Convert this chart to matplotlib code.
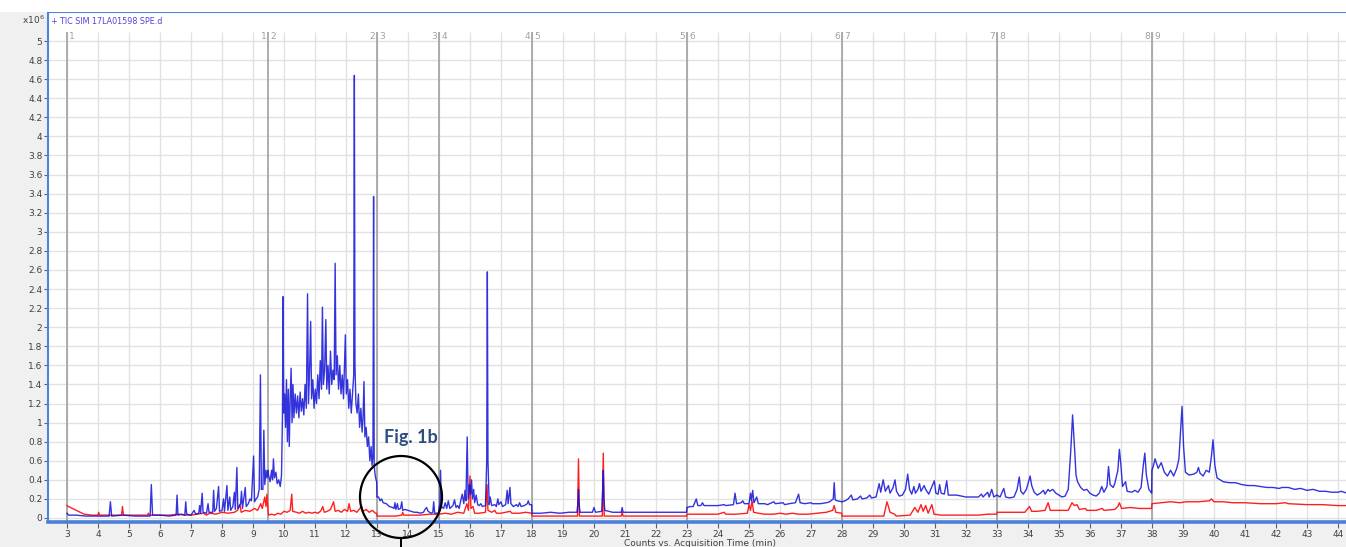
import matplotlib
matplotlib.use("Agg")
import matplotlib.pyplot as plt
from matplotlib.patches import Ellipse, Rectangle
from matplotlib.lines import Line2D

# ---------------- data (x10^6 counts vs minutes) ----------------
title_text = "+ TIC SIM 17LA01598 SPE.d"
x_label = "Counts vs. Acquisition Time (min)"
x_ticks = list(range(3, 45))
y_ticks = [0, 0.2, 0.4, 0.6, 0.8, 1, 1.2, 1.4, 1.6, 1.8, 2, 2.2, 2.4, 2.6, 2.8,
           3, 3.2, 3.4, 3.6, 3.8, 4, 4.2, 4.4, 4.6, 4.8, 5]
segment_times = [3.0, 9.5, 13.0, 15.0, 18.0, 23.0, 28.0, 33.0, 38.0]
segment_ids = [1, 2, 3, 4, 5, 6, 7, 8, 9]

blue_early = [
    (3.00, 0.05), (3.05, 0.03), (3.30, 0.03), (3.60, 0.02), (4.00, 0.02), (4.36, 0.02),
    (4.40, 0.17), (4.44, 0.02), (4.80, 0.03), (5.20, 0.02), (5.68, 0.02), (5.72, 0.35),
    (5.76, 0.03), (6.00, 0.03), (6.30, 0.02), (6.52, 0.03), (6.55, 0.24), (6.58, 0.03),
    (6.70, 0.04), (6.80, 0.03), (6.83, 0.17), (6.86, 0.04), (7.00, 0.03), (7.10, 0.08),
    (7.15, 0.04), (7.25, 0.05), (7.28, 0.13), (7.31, 0.05), (7.36, 0.26), (7.39, 0.06),
    (7.50, 0.05), (7.55, 0.15), (7.58, 0.06), (7.70, 0.06), (7.73, 0.29), (7.76, 0.07),
    (7.82, 0.10), (7.89, 0.33), (7.92, 0.07), (8.00, 0.08), (8.05, 0.20), (8.08, 0.07),
    (8.16, 0.34), (8.19, 0.08), (8.25, 0.22), (8.28, 0.08), (8.35, 0.12), (8.40, 0.27),
    (8.43, 0.09), (8.48, 0.53), (8.51, 0.10), (8.60, 0.15), (8.63, 0.28), (8.66, 0.10),
    (8.75, 0.32), (8.78, 0.12), (8.85, 0.15), (8.90, 0.20), (8.95, 0.18), (9.02, 0.65),
    (9.05, 0.17), (9.10, 0.20), (9.15, 0.22), (9.20, 0.30), (9.24, 1.50), (9.27, 0.30),
    (9.32, 0.30), (9.35, 0.92), (9.38, 0.35), (9.42, 0.50), (9.45, 0.42), (9.49, 0.50),
]

blue_hump = [
    (9.50, 0.45), (9.55, 0.38), (9.60, 0.50), (9.63, 0.40), (9.66, 0.62), (9.69, 0.42),
    (9.74, 0.48), (9.78, 0.36), (9.83, 0.40), (9.88, 0.33), (9.92, 0.45), (9.95, 1.05),
    (9.97, 2.32), (9.99, 1.10), (10.02, 1.30), (10.05, 0.95), (10.08, 1.45), (10.11, 0.80),
    (10.14, 1.35), (10.17, 0.75), (10.20, 1.25), (10.23, 1.57), (10.26, 1.00), (10.29, 1.40),
    (10.32, 1.05), (10.36, 1.30), (10.40, 1.10), (10.44, 1.28), (10.48, 1.05), (10.52, 1.32),
    (10.56, 1.12), (10.60, 1.25), (10.64, 1.08), (10.68, 1.40), (10.72, 1.15), (10.76, 2.35),
    (10.79, 1.20), (10.83, 1.60), (10.86, 2.06), (10.89, 1.25), (10.93, 1.45), (10.97, 1.15),
    (11.01, 1.35), (11.05, 1.20), (11.09, 1.50), (11.13, 1.25), (11.17, 1.65), (11.21, 1.35),
    (11.24, 2.21), (11.27, 1.40), (11.31, 1.55), (11.35, 2.08), (11.38, 1.35), (11.42, 1.60),
    (11.46, 1.30), (11.50, 1.75), (11.54, 1.40), (11.58, 1.55), (11.62, 1.45), (11.65, 2.67),
    (11.68, 1.50), (11.72, 1.70), (11.76, 1.35), (11.80, 1.60), (11.84, 1.30), (11.88, 1.50),
    (11.92, 1.25), (11.95, 1.60), (11.98, 1.92), (12.01, 1.30), (12.05, 1.45), (12.09, 1.15),
    (12.13, 1.35), (12.17, 1.10), (12.21, 1.30), (12.25, 1.50), (12.27, 4.64), (12.29, 1.60),
    (12.32, 1.20), (12.36, 1.10), (12.40, 1.30), (12.44, 0.95), (12.48, 1.15), (12.52, 0.90),
    (12.55, 1.05), (12.58, 1.43), (12.61, 0.85), (12.65, 0.95), (12.69, 0.75), (12.73, 0.85),
    (12.77, 0.60), (12.81, 0.75), (12.84, 0.55), (12.87, 0.65), (12.89, 3.37), (12.91, 0.55),
    (12.94, 0.45), (12.97, 0.40), (12.99, 0.38),
]

blue_mid = [
    (13.00, 0.22), (13.05, 0.22), (13.10, 0.18), (13.15, 0.20), (13.20, 0.16), (13.30, 0.15),
    (13.40, 0.12), (13.50, 0.11), (13.55, 0.10), (13.58, 0.16), (13.61, 0.09), (13.66, 0.15),
    (13.69, 0.09), (13.76, 0.10), (13.80, 0.17), (13.83, 0.08), (13.90, 0.09), (14.00, 0.08),
    (14.10, 0.07), (14.20, 0.06), (14.30, 0.06), (14.40, 0.05), (14.50, 0.06), (14.55, 0.09),
    (14.60, 0.11), (14.65, 0.07), (14.75, 0.05), (14.80, 0.06), (14.83, 0.17), (14.86, 0.05),
    (14.95, 0.05), (14.99, 0.05),
    (15.00, 0.10), (15.03, 0.15), (15.05, 0.50), (15.08, 0.12), (15.15, 0.10), (15.20, 0.16),
    (15.25, 0.10), (15.30, 0.18), (15.35, 0.10), (15.45, 0.13), (15.50, 0.19), (15.55, 0.11),
    (15.60, 0.13), (15.65, 0.10), (15.70, 0.18), (15.75, 0.25), (15.80, 0.15), (15.84, 0.29),
    (15.87, 0.18), (15.91, 0.85), (15.94, 0.20), (15.98, 0.35), (16.02, 0.25), (16.05, 0.40),
    (16.08, 0.20), (16.12, 0.30), (16.15, 0.16), (16.20, 0.24), (16.25, 0.14), (16.30, 0.13),
    (16.35, 0.15), (16.40, 0.12), (16.50, 0.13), (16.54, 0.60), (16.56, 2.58), (16.58, 0.60),
    (16.62, 0.14), (16.65, 0.22), (16.70, 0.13), (16.80, 0.14), (16.85, 0.12), (16.90, 0.20),
    (16.93, 0.14), (17.00, 0.17), (17.05, 0.12), (17.15, 0.14), (17.20, 0.29), (17.23, 0.15),
    (17.29, 0.32), (17.32, 0.15), (17.40, 0.12), (17.50, 0.14), (17.55, 0.12), (17.60, 0.16),
    (17.65, 0.12), (17.75, 0.13), (17.85, 0.15), (17.88, 0.18), (17.92, 0.14), (17.99, 0.14),
    (18.00, 0.05), (18.30, 0.05), (18.60, 0.06), (18.90, 0.05), (19.20, 0.06), (19.45, 0.06),
    (19.48, 0.15), (19.50, 0.30), (19.52, 0.15), (19.55, 0.06), (19.80, 0.06), (19.95, 0.06),
    (20.00, 0.11), (20.05, 0.06), (20.25, 0.07), (20.28, 0.30), (20.30, 0.50), (20.32, 0.20),
    (20.35, 0.08), (20.60, 0.06), (20.88, 0.06), (20.91, 0.11), (20.94, 0.06), (21.30, 0.06),
    (21.70, 0.06), (22.00, 0.06), (22.40, 0.06), (22.70, 0.06), (22.99, 0.06),
]

blue_late = [
    (23.00, 0.11), (23.10, 0.12), (23.20, 0.12), (23.30, 0.20), (23.35, 0.13), (23.45, 0.13),
    (23.50, 0.16), (23.55, 0.13), (23.80, 0.13), (24.00, 0.13), (24.20, 0.14), (24.25, 0.13),
    (24.50, 0.14), (24.55, 0.26), (24.60, 0.15), (24.75, 0.16), (24.80, 0.18), (24.85, 0.15),
    (25.00, 0.15), (25.05, 0.26), (25.08, 0.18), (25.12, 0.29), (25.16, 0.16), (25.25, 0.22),
    (25.30, 0.15), (25.50, 0.15), (25.60, 0.14), (25.80, 0.17), (25.85, 0.15), (26.10, 0.16),
    (26.15, 0.14), (26.30, 0.15), (26.50, 0.16), (26.60, 0.25), (26.65, 0.16), (26.80, 0.15),
    (27.00, 0.16), (27.05, 0.15), (27.30, 0.15), (27.50, 0.16), (27.60, 0.17), (27.72, 0.20),
    (27.75, 0.37), (27.78, 0.19), (27.85, 0.18), (27.99, 0.17),
    (28.00, 0.17), (28.10, 0.18), (28.20, 0.20), (28.30, 0.24), (28.35, 0.19), (28.50, 0.20),
    (28.60, 0.23), (28.65, 0.20), (28.80, 0.21), (28.90, 0.24), (28.95, 0.21), (29.10, 0.22),
    (29.20, 0.36), (29.25, 0.27), (29.33, 0.40), (29.40, 0.28), (29.50, 0.34), (29.55, 0.26),
    (29.65, 0.32), (29.71, 0.40), (29.76, 0.28), (29.85, 0.23), (29.95, 0.24), (30.05, 0.30),
    (30.12, 0.46), (30.18, 0.30), (30.25, 0.25), (30.32, 0.33), (30.37, 0.26), (30.45, 0.30),
    (30.50, 0.36), (30.55, 0.28), (30.65, 0.34), (30.70, 0.30), (30.80, 0.25), (30.98, 0.39),
    (31.03, 0.26), (31.10, 0.25), (31.15, 0.35), (31.20, 0.26), (31.30, 0.25), (31.38, 0.39),
    (31.43, 0.24), (31.55, 0.24), (31.70, 0.24), (31.85, 0.23), (32.00, 0.22), (32.20, 0.22),
    (32.40, 0.22), (32.50, 0.25), (32.55, 0.22), (32.70, 0.27), (32.75, 0.22), (32.83, 0.30),
    (32.90, 0.22), (32.99, 0.24),
    (33.00, 0.24), (33.10, 0.22), (33.22, 0.31), (33.28, 0.22), (33.40, 0.21), (33.55, 0.22),
    (33.65, 0.30), (33.72, 0.43), (33.77, 0.28), (33.85, 0.25), (33.95, 0.30), (34.07, 0.44),
    (34.12, 0.34), (34.20, 0.27), (34.30, 0.24), (34.40, 0.26), (34.50, 0.29), (34.55, 0.25),
    (34.65, 0.30), (34.70, 0.28), (34.80, 0.30), (34.90, 0.26), (35.00, 0.24), (35.10, 0.22),
    (35.20, 0.23), (35.30, 0.30), (35.38, 0.70), (35.44, 1.08), (35.50, 0.75), (35.55, 0.45),
    (35.60, 0.38), (35.70, 0.32), (35.80, 0.29), (35.90, 0.30), (36.00, 0.26), (36.10, 0.24),
    (36.20, 0.23), (36.30, 0.26), (36.38, 0.33), (36.45, 0.27), (36.55, 0.33), (36.60, 0.54),
    (36.65, 0.35), (36.75, 0.32), (36.80, 0.36), (36.90, 0.50), (36.95, 0.72), (37.00, 0.55),
    (37.05, 0.33), (37.15, 0.38), (37.20, 0.28), (37.35, 0.27), (37.45, 0.29), (37.55, 0.27),
    (37.65, 0.32), (37.72, 0.55), (37.77, 0.68), (37.82, 0.45), (37.90, 0.30), (37.99, 0.26),
    (38.00, 0.50), (38.05, 0.55), (38.10, 0.62), (38.20, 0.52), (38.30, 0.58), (38.40, 0.48),
    (38.50, 0.44), (38.60, 0.50), (38.70, 0.44), (38.80, 0.52), (38.87, 0.62), (38.92, 0.90),
    (38.97, 1.17), (39.02, 0.75), (39.08, 0.48), (39.20, 0.45), (39.35, 0.46), (39.45, 0.48),
    (39.50, 0.53), (39.55, 0.47), (39.65, 0.44), (39.75, 0.50), (39.85, 0.48), (39.92, 0.65),
    (39.97, 0.82), (40.03, 0.55), (40.10, 0.42), (40.30, 0.38), (40.50, 0.37), (40.70, 0.37),
    (40.90, 0.35), (41.10, 0.34), (41.30, 0.34), (41.50, 0.33), (41.70, 0.32), (41.90, 0.32),
    (42.10, 0.31), (42.20, 0.32), (42.40, 0.32), (42.60, 0.30), (42.80, 0.31), (43.00, 0.29),
    (43.20, 0.30), (43.40, 0.28), (43.60, 0.28), (43.80, 0.27), (44.00, 0.27), (44.10, 0.28),
    (44.30, 0.26),
]

red_early = [
    (3.00, 0.13), (3.05, 0.12), (3.30, 0.08), (3.55, 0.04), (3.80, 0.03), (4.00, 0.03),
    (4.02, 0.06), (4.05, 0.03), (4.40, 0.03), (4.76, 0.03), (4.79, 0.12), (4.82, 0.03),
    (5.20, 0.03), (5.60, 0.03), (5.62, 0.05), (5.65, 0.03), (6.00, 0.03), (6.30, 0.03),
    (6.60, 0.04), (6.80, 0.03), (7.00, 0.03), (7.20, 0.04), (7.40, 0.05), (7.50, 0.03),
    (7.60, 0.05), (7.80, 0.04), (8.00, 0.06), (8.20, 0.05), (8.40, 0.06), (8.50, 0.08),
    (8.58, 0.14), (8.62, 0.06), (8.75, 0.08), (8.90, 0.07), (9.05, 0.10), (9.15, 0.08),
    (9.25, 0.15), (9.30, 0.10), (9.38, 0.22), (9.42, 0.12), (9.45, 0.25), (9.48, 0.10),
    (9.50, 0.03), (9.60, 0.04), (9.70, 0.03), (9.80, 0.05), (9.90, 0.04), (10.00, 0.07),
    (10.10, 0.06), (10.20, 0.08), (10.25, 0.25), (10.28, 0.07), (10.40, 0.06), (10.50, 0.05),
    (10.60, 0.07), (10.70, 0.05), (10.80, 0.06), (10.90, 0.05), (11.00, 0.06), (11.10, 0.05),
    (11.20, 0.08), (11.25, 0.12), (11.30, 0.06), (11.40, 0.07), (11.50, 0.09), (11.60, 0.17),
    (11.65, 0.07), (11.75, 0.08), (11.85, 0.06), (11.95, 0.09), (12.05, 0.07), (12.10, 0.15),
    (12.15, 0.07), (12.25, 0.08), (12.35, 0.06), (12.45, 0.10), (12.50, 0.13), (12.55, 0.07),
    (12.65, 0.09), (12.75, 0.06), (12.85, 0.08), (12.95, 0.05), (12.99, 0.05),
]

red_mid = [
    (13.00, 0.02), (13.30, 0.02), (13.60, 0.02), (13.80, 0.03), (13.83, 0.06), (13.86, 0.03),
    (14.10, 0.03), (14.40, 0.03), (14.70, 0.04), (14.99, 0.04),
    (15.00, 0.04), (15.20, 0.05), (15.40, 0.04), (15.60, 0.06), (15.80, 0.05), (15.90, 0.15),
    (15.95, 0.08), (16.00, 0.44), (16.03, 0.10), (16.10, 0.12), (16.15, 0.05), (16.30, 0.05),
    (16.50, 0.06), (16.55, 0.35), (16.58, 0.08), (16.70, 0.06), (16.80, 0.08), (16.85, 0.05),
    (17.00, 0.05), (17.30, 0.07), (17.35, 0.05), (17.60, 0.05), (17.80, 0.06), (17.99, 0.05),
    (18.00, 0.02), (18.50, 0.02), (19.00, 0.02), (19.47, 0.02), (19.50, 0.62), (19.53, 0.02),
    (20.00, 0.02), (20.27, 0.02), (20.30, 0.68), (20.33, 0.02), (20.88, 0.02), (20.91, 0.06),
    (20.94, 0.02), (21.50, 0.02), (22.00, 0.02), (22.50, 0.02), (22.99, 0.02),
]

red_late = [
    (23.00, 0.04), (23.30, 0.04), (23.60, 0.04), (24.00, 0.04), (24.20, 0.06), (24.25, 0.04),
    (24.60, 0.04), (24.95, 0.05), (25.00, 0.14), (25.05, 0.08), (25.10, 0.18), (25.15, 0.06),
    (25.30, 0.05), (25.50, 0.04), (25.80, 0.04), (26.00, 0.05), (26.20, 0.04), (26.40, 0.05),
    (26.60, 0.04), (26.90, 0.04), (27.20, 0.05), (27.50, 0.06), (27.70, 0.08), (27.75, 0.13),
    (27.80, 0.06), (27.99, 0.05),
    (28.00, 0.02), (28.50, 0.02), (29.00, 0.02), (29.35, 0.02), (29.45, 0.17), (29.50, 0.12),
    (29.55, 0.06), (29.70, 0.04), (29.75, 0.02), (30.20, 0.03), (30.35, 0.11), (30.45, 0.06),
    (30.55, 0.14), (30.62, 0.07), (30.70, 0.13), (30.78, 0.05), (30.90, 0.14), (30.97, 0.04),
    (31.20, 0.03), (31.60, 0.03), (32.00, 0.03), (32.40, 0.03), (32.70, 0.04), (32.99, 0.04),
    (33.00, 0.06), (33.50, 0.06), (33.90, 0.06), (34.05, 0.12), (34.12, 0.07), (34.30, 0.07),
    (34.55, 0.08), (34.65, 0.16), (34.72, 0.08), (35.00, 0.08), (35.30, 0.08), (35.42, 0.16),
    (35.50, 0.13), (35.58, 0.14), (35.66, 0.09), (35.85, 0.10), (35.90, 0.08), (36.20, 0.08),
    (36.40, 0.10), (36.45, 0.08), (36.80, 0.09), (36.90, 0.12), (36.95, 0.16), (37.02, 0.10),
    (37.30, 0.11), (37.60, 0.10), (37.99, 0.10),
    (38.00, 0.15), (38.30, 0.16), (38.60, 0.17), (38.90, 0.16), (39.10, 0.17), (39.50, 0.17),
    (39.85, 0.18), (39.92, 0.20), (40.00, 0.17), (40.30, 0.17), (40.60, 0.16), (41.00, 0.16),
    (41.50, 0.15), (42.00, 0.15), (42.30, 0.16), (42.40, 0.15), (43.00, 0.14), (43.50, 0.14),
    (44.00, 0.13), (44.30, 0.13),
]

# ---------------- figure ----------------
W, H = 1346, 547
fig = plt.figure(figsize=(W / 100, H / 100), dpi=100, facecolor="#F0F0F0")
fig.patches.append(Rectangle((0, 1 - 12 / H), 1, 12 / H, transform=fig.transFigure,
                             facecolor="white", edgecolor="none", zorder=0))

ax_left, ax_right = 48 / W, 1.0
ax_bottom, ax_top = 1 - 522 / H, 1 - 12 / H
ax = fig.add_axes([ax_left, ax_bottom, ax_right - ax_left, ax_top - ax_bottom])
ax.set_facecolor("white")

x_min, x_max = 2.387, 44.26
y_min, y_max = -0.042, 5.304
grid_top = 5.09
ax.set_xlim(x_min, x_max)
ax.set_ylim(y_min, y_max)

grid_c = "#E2E2E2"
for yt in y_ticks:
    ax.axhline(yt, color=grid_c, lw=1.0, zorder=0)
ax.vlines(x_ticks, y_min, grid_top, color=grid_c, lw=1.0, zorder=0)
ax.vlines(segment_times, y_min, grid_top, color="#A0A0A0", lw=1.2, zorder=1)
for i, st in enumerate(segment_times):
    sid = segment_ids[i]
    if i > 0:
        ax.text(st - 0.07, 5.045, str(sid - 1), ha="right", va="center",
                fontsize=6.5, color="#A0A0A0")
    ax.text(st + 0.07, 5.045, str(sid), ha="left", va="center",
            fontsize=6.5, color="#A0A0A0")

def unpack(*parts):
    xs, ys = [], []
    for part in parts:
        for t, v in part:
            xs.append(t)
            ys.append(v)
    return xs, ys

rx, ry = unpack(red_early, red_mid, red_late)
bx, by = unpack(blue_early, blue_hump, blue_mid, blue_late)
ax.plot(rx, ry, color="#FF1E1E", lw=1.0, zorder=3)
ax.plot(bx, by, color="#1010D8", lw=1.0, alpha=0.85, zorder=4)

# axes styling
ax.spines["right"].set_visible(False)
ax.spines["left"].set_color("#4A86E0")
ax.spines["left"].set_linewidth(1.5)
ax.spines["top"].set_color("#4A86E0")
ax.spines["top"].set_linewidth(1.5)
ax.spines["bottom"].set_color("#4A80D8")
ax.spines["bottom"].set_linewidth(2.6)

ax.set_yticks(y_ticks)
ax.set_yticklabels([("%g" % v) for v in y_ticks])
ax.set_xticks(x_ticks)
ax.set_xticklabels([str(v) for v in x_ticks])
ax.tick_params(axis="y", length=3, width=0.8, color="#606060", labelsize=6.5,
               labelcolor="#404040", pad=1)
ax.tick_params(axis="x", length=4, width=0.8, color="#606060", labelsize=6.5,
               labelcolor="#404040", pad=1.5)

ax.text(0.002, 0.982, title_text, transform=ax.transAxes, ha="left", va="center",
        fontsize=5.8, color="#5B3FD8")
fig.text(22 / W, 1 - 20 / H, r"x10$^{\,6}$", ha="left", va="center",
         fontsize=6.5, color="#404040")
fig.text(700 / W, 1 - 543 / H, x_label, ha="center", va="center",
         fontsize=6.5, color="#404040")

# Fig. 1b annotation
fig.text(411 / W, 1 - 437 / H, "Fig. 1b", ha="center", va="center",
         fontsize=13, fontweight="bold", color="#2D4E80", family="Lato")
cx, cy, r = 401, 497, 41
fig.patches.append(Ellipse((cx / W, 1 - cy / H), 2 * r / W, 2 * r / H,
                           transform=fig.transFigure, fill=False,
                           edgecolor="black", lw=1.6, zorder=10))
fig.lines.append(Line2D([cx / W, cx / W], [1 - (cy + r) / H, 0],
                        transform=fig.transFigure, color="black", lw=1.4, zorder=10))

fig.savefig("out.png", dpi=100, facecolor=fig.get_facecolor())
